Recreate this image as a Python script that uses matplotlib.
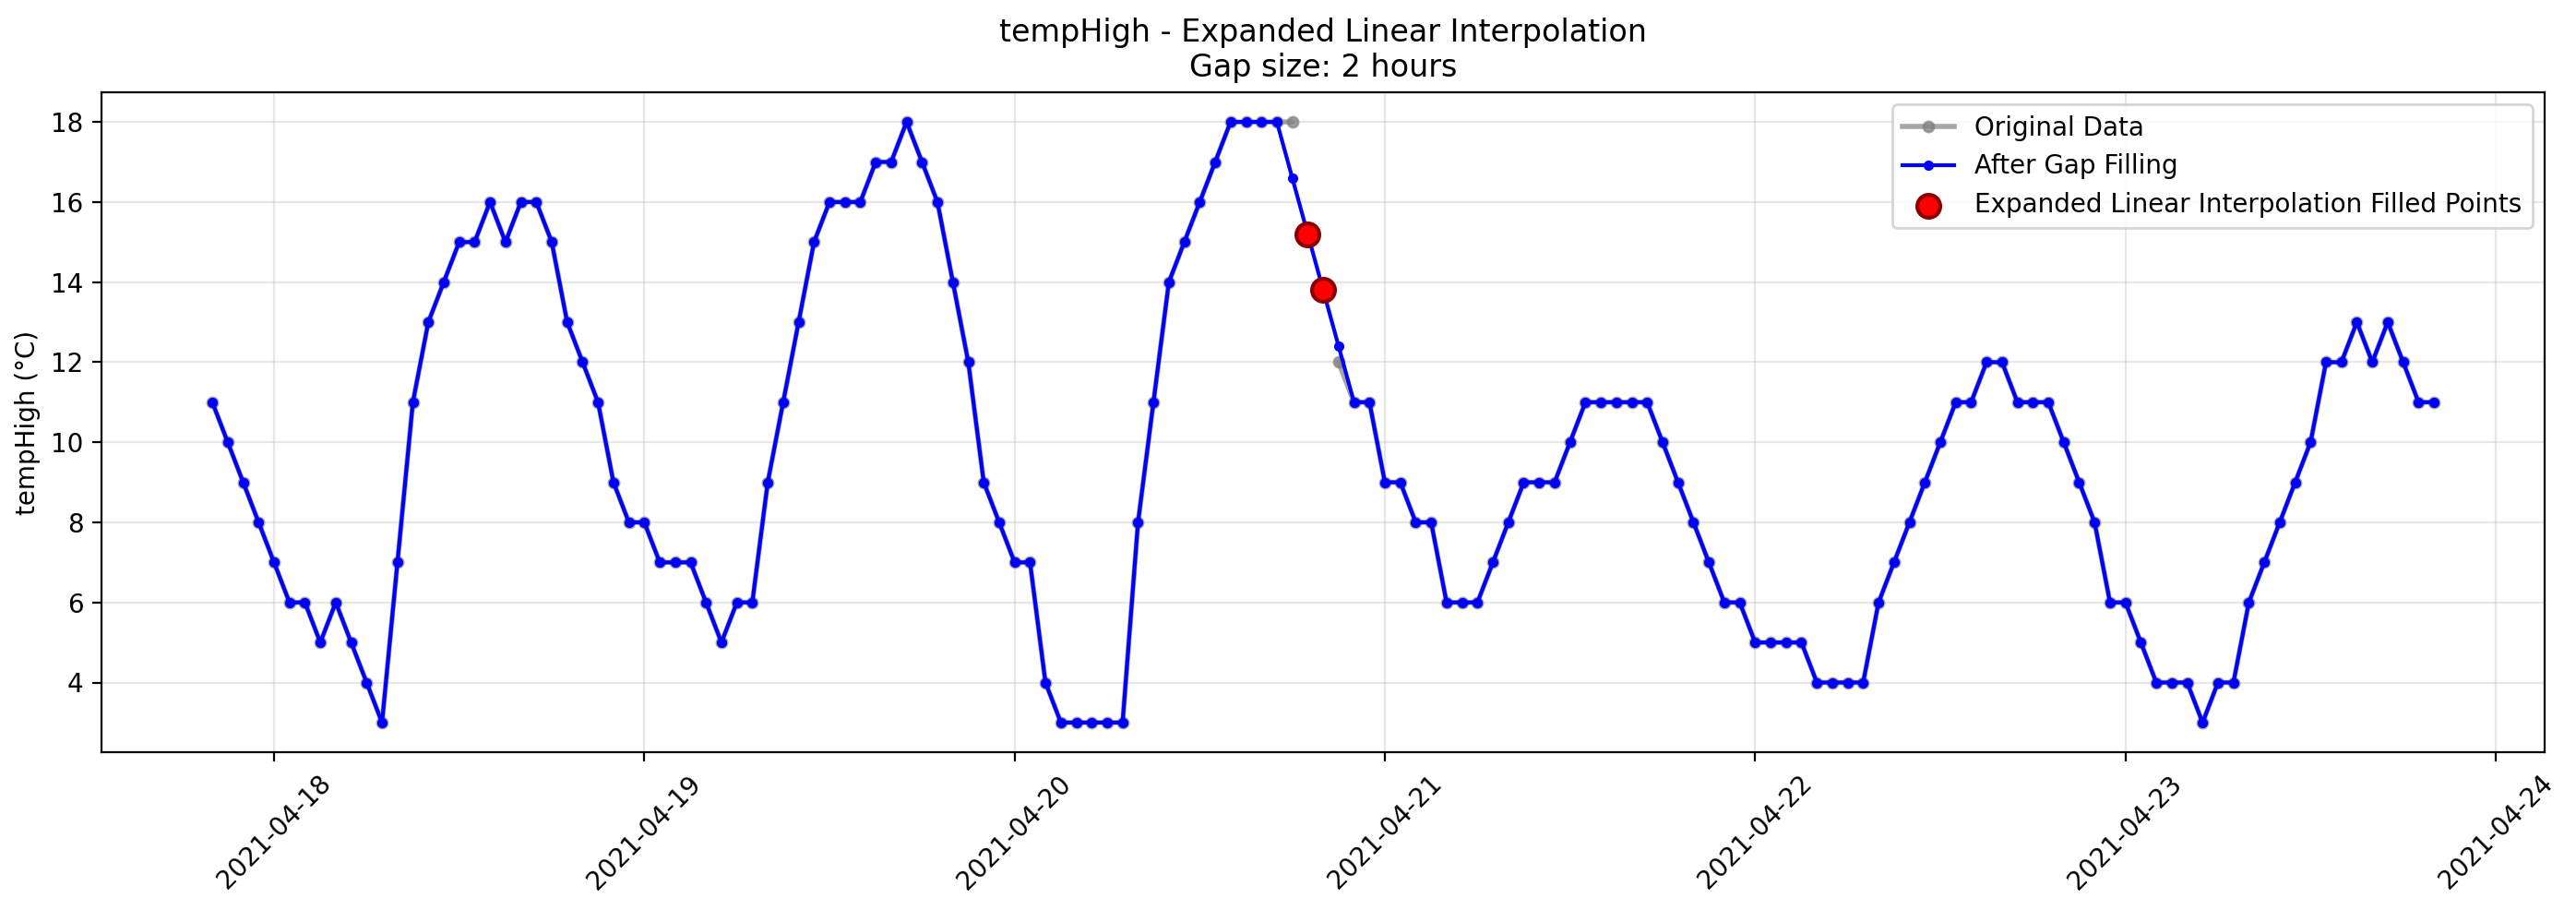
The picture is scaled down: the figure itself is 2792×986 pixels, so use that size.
import numpy as np
import pandas as pd
import matplotlib
matplotlib.use('Agg')
import matplotlib.pyplot as plt
import matplotlib.dates as mdates

nan = np.nan

# --- hourly tempHigh readings as recorded (nan = missing) ---
start_time = '2021-04-17 20:00'
orig_apr17 = [11, 10, 9, 8]
orig_apr18 = [7, 6, 6, 5, 6, 5, 4, 3, 7, 11, 13, 14, 15, 15, 16, 15, 16, 16, 15, 13, 12, 11, 9, 8]
orig_apr19 = [8, 7, 7, 7, 6, 5, 6, 6, 9, 11, 13, 15, 16, 16, 16, 17, 17, 18, 17, 16, 14, 12, 9, 8]
orig_apr20 = [7, 7, 4, 3, 3, 3, 3, 3, 8, 11, 14, 15, 16, 17, 18, 18, 18, 18, 18, nan, nan, 12, 11, 11]
orig_apr21 = [9, 9, 8, 8, 6, 6, 6, 7, 8, 9, 9, 9, 10, 11, 11, 11, 11, 11, 10, 9, 8, 7, 6, 6]
orig_apr22 = [5, 5, 5, 5, 4, 4, 4, 4, 6, 7, 8, 9, 10, 11, 11, 12, 12, 11, 11, 11, 10, 9, 8, 6]
orig_apr23 = [6, 5, 4, 4, 4, 3, 4, 4, 6, 7, 8, 9, 10, 12, 12, 13, 12, 13, 12, 11, 11]

# --- values rewritten by the expanded linear interpolation ---
adjusted_times = ['2021-04-20 18:00', '2021-04-20 19:00', '2021-04-20 20:00', '2021-04-20 21:00']
adjusted_values = [16.6, 15.2, 13.8, 12.4]

# the gap itself (2 hours)
gap_times = ['2021-04-20 19:00', '2021-04-20 20:00']

values = orig_apr17 + orig_apr18 + orig_apr19 + orig_apr20 + orig_apr21 + orig_apr22 + orig_apr23
times = pd.date_range(start_time, periods=len(values), freq='h')
original = pd.Series(values, index=times, dtype=float)

filled = original.copy()
filled.loc[pd.to_datetime(adjusted_times)] = adjusted_values
gap_idx = pd.to_datetime(gap_times)

# --- plot ---
fig, ax = plt.subplots(figsize=(13.96, 4.93), dpi=200)
fig.subplots_adjust(left=0.0393, right=0.988, bottom=0.173, top=0.899)

ax.plot(original.index, original.values, 'o-', color='gray', alpha=0.7,
        linewidth=2, markersize=4, label='Original Data')
ax.plot(filled.index, filled.values, 'o-', color='blue',
        linewidth=1.5, markersize=3, label='After Gap Filling')
ax.scatter(gap_idx, filled.loc[gap_idx].values, color='red', s=80,
           edgecolors='darkred', linewidths=1.5, zorder=5,
           label='Expanded Linear Interpolation Filled Points')

ax.set_title('tempHigh - Expanded Linear Interpolation\nGap size: 2 hours', fontsize=12)
ax.set_ylabel('tempHigh (°C)')
ax.legend(loc='upper right')
ax.grid(True, alpha=0.3)

ax.xaxis.set_major_locator(mdates.DayLocator())
ax.xaxis.set_major_formatter(mdates.DateFormatter('%Y-%m-%d'))
plt.setp(ax.get_xticklabels(), rotation=45)

fig.savefig('out.png', dpi=200)
